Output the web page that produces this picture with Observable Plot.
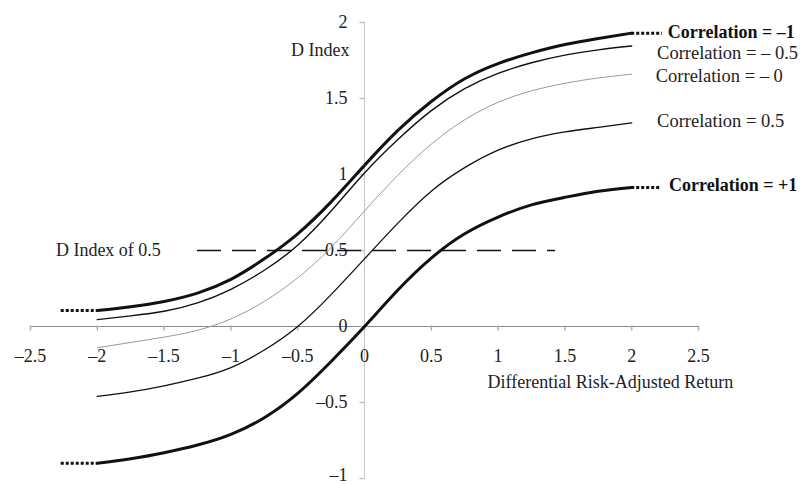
<!DOCTYPE html>
<html><head><meta charset="utf-8">
<script src="https://cdn.jsdelivr.net/npm/d3@7"></script>
<script src="https://cdn.jsdelivr.net/npm/@observablehq/plot@0.6"></script>
<style>html,body{margin:0;padding:0;background:#fff;}</style>
</head><body><div id="chart"></div>
<script>
// Differential risk-adjusted return (x) sample points
const xs = [-2, -1.75, -1.5, -1.25, -1, -0.75, -0.5, -0.25, 0, 0.25, 0.5, 0.75, 1, 1.25, 1.5, 1.75, 2];
// D Index values by correlation
const corrMinus1   = [0.105, 0.13, 0.165, 0.22, 0.31, 0.445, 0.61, 0.82, 1.06, 1.29, 1.48, 1.63, 1.73, 1.80, 1.855, 1.895, 1.93];
const corrMinus05  = [0.045, 0.07, 0.10, 0.155, 0.245, 0.37, 0.535, 0.76, 1.01, 1.23, 1.42, 1.565, 1.665, 1.735, 1.785, 1.82, 1.845];
const corrZero     = [-0.14, -0.105, -0.07, -0.025, 0.05, 0.165, 0.32, 0.52, 0.76, 0.995, 1.20, 1.36, 1.475, 1.55, 1.60, 1.635, 1.66];
const corrPlus05   = [-0.46, -0.43, -0.39, -0.34, -0.27, -0.155, 0.0, 0.21, 0.445, 0.68, 0.89, 1.045, 1.16, 1.235, 1.28, 1.31, 1.34];
const corrPlus1    = [-0.90, -0.87, -0.83, -0.78, -0.71, -0.60, -0.44, -0.23, 0.0, 0.24, 0.45, 0.61, 0.72, 0.80, 0.85, 0.89, 0.915];

const xTicks = [-2.5, -2, -1.5, -1, -0.5, 0, 0.5, 1, 1.5, 2, 2.5];
const yTicks = [-0.5, 0, 0.5, 1, 1.5, 2];
const yTickBottom = [-1];

// dotted extensions of the extreme curves
const extensions = [
  {y: 0.105, x1: -2.27, x2: -2},
  {y: 1.93,  x1: 2, x2: 2.23},
  {y: -0.90, x1: -2.27, x2: -2},
  {y: 0.915, x1: 2, x2: 2.22}
];

// curve labels
const labels = [
  {text: "Correlation = –1",    x: 2.27, y: 1.935, bold: true},
  {text: "Correlation = – 0.5", x: 2.19, y: 1.80,  bold: false},
  {text: "Correlation = – 0",   x: 2.18, y: 1.65,  bold: false},
  {text: "Correlation = 0.5",   x: 2.19, y: 1.35,  bold: false},
  {text: "Correlation = +1",    x: 2.28, y: 0.93,  bold: true}
];

const series = [
  {values: corrMinus1,  stroke: "#111", width: 3},
  {values: corrMinus05, stroke: "#111", width: 1.4},
  {values: corrZero,    stroke: "#9a9a9a", width: 1},
  {values: corrPlus05,  stroke: "#111", width: 1.3},
  {values: corrPlus1,   stroke: "#111", width: 3}
];

const fmt = d => d < 0 ? "–" + Math.abs(d) : String(d);

const tickDown = {draw(ctx) { ctx.moveTo(0, -1); ctx.lineTo(0, 4); }};
const tickLeft = {draw(ctx) { ctx.moveTo(-5, 0); ctx.lineTo(0, 0); }};

const marks = [
  Plot.ruleY([0], {x1: -2.5, x2: 2.5, stroke: "#8a8a8a", strokeWidth: 1}),
  Plot.ruleX([0], {y1: -1, y2: 2, stroke: "#c8c8c8", strokeWidth: 1}),
  Plot.dot(xTicks, {x: d => d, y: 0, symbol: tickDown, stroke: "#b0b0b0", fill: "none", r: 3}),
  Plot.dot(yTicks.concat(yTickBottom), {x: 0, y: d => d, symbol: tickLeft, stroke: "#c0c0c0", fill: "none", r: 3}),
  Plot.text(xTicks, {x: d => d, y: 0, dy: 30, text: fmt, fill: "#222"}),
  Plot.text(yTicks, {x: 0, y: d => d, dx: -17, textAnchor: "end", text: fmt, fill: "#222"}),
  Plot.text(yTickBottom, {x: 0, y: d => d, dx: -17, dy: -3, textAnchor: "end", text: fmt, fill: "#222"}),
  Plot.text(["D Index"], {x: 0, y: 1.82, dx: -15, textAnchor: "end", fill: "#222"}),
  Plot.text(["Differential Risk-Adjusted Return"], {x: 1.84, y: 0, dy: 56, textAnchor: "middle", fill: "#222"}),
  Plot.ruleY([0.5], {x1: -1.25, x2: 1.43, stroke: "#111", strokeWidth: 1.5, strokeDasharray: "24,11"}),
  Plot.text(["D Index of 0.5"], {x: -2.31, y: 0.5, textAnchor: "start", fill: "#222"})
];

for (const s of series) {
  marks.push(Plot.line(xs.map((x, i) => ({x, y: s.values[i]})), {
    x: "x", y: "y", stroke: s.stroke, strokeWidth: s.width, curve: "natural"
  }));
}
marks.push(Plot.ruleY(extensions, {y: "y", x1: "x1", x2: "x2", stroke: "#111", strokeWidth: 3, strokeDasharray: "3,2"}));
marks.push(Plot.text(labels.filter(d => !d.bold), {x: "x", y: "y", text: "text", textAnchor: "start", fill: "#222", fontSize: 18.5}));
marks.push(Plot.text(labels.filter(d => d.bold), {x: "x", y: "y", text: "text", textAnchor: "start", fill: "#111", fontWeight: "bold", fontSize: 18}));

const chart = Plot.plot({
  width: 809, height: 484,
  marginLeft: 30, marginRight: 111, marginTop: 22, marginBottom: 6,
  x: {domain: [-2.5, 2.5], axis: null},
  y: {domain: [-1, 2], axis: null},
  style: {fontFamily: "'Liberation Serif', 'Times New Roman', serif", fontSize: "18px", background: "#fff"},
  marks
});
document.getElementById("chart").appendChild(chart);
</script>
</body></html>
